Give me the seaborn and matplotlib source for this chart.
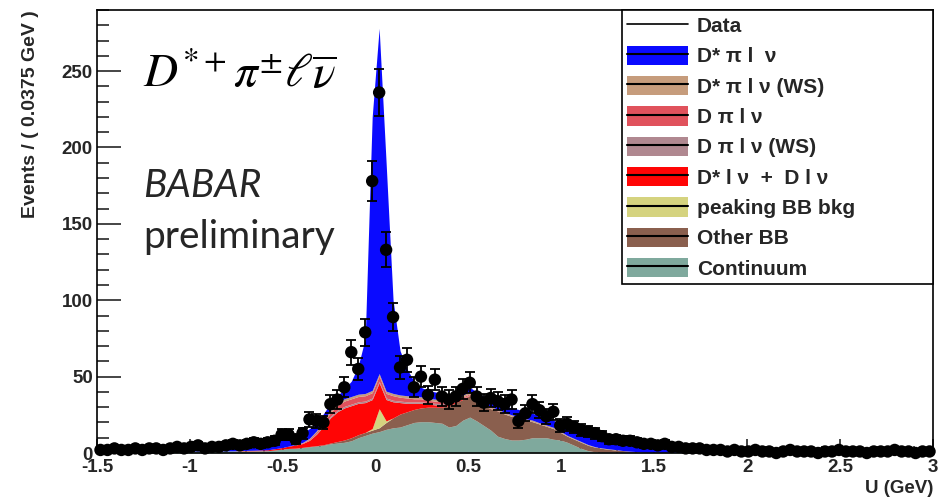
import numpy as np
import pandas as pd
import matplotlib
matplotlib.use("Agg")
import matplotlib.pyplot as plt
from matplotlib.patches import Patch
from matplotlib.lines import Line2D
from matplotlib.ticker import MultipleLocator
import seaborn as sns

# ---- binning: 120 bins of 0.0375 GeV on [-1.5, 3] ----
u_lo, u_hi, bin_w = -1.5, 3.0, 0.0375
n_bins = 120

# ---- observed events per bin ----
data_counts = [
    2, 2, 3, 2, 2, 3, 2, 3, 3, 2, 3, 4, 3, 4, 5, 3, 4, 4, 5, 6, 5, 6, 7, 6, 7, 8,
    12, 12, 9, 13, 22, 21, 20, 32, 35, 43, 66, 55, 79,
    178, 236, 133, 89, 56, 61, 43,
    50, 38, 48, 37, 35, 37, 42, 46, 37, 33, 36, 34, 32, 35,
    21, 26, 32, 28, 24, 27, 18, 19, 17, 15, 14, 13, 11,
    9, 9, 8, 8, 7, 6, 6, 5, 6, 4, 4, 3, 3,
    3, 2, 2, 2, 1, 2, 1, 1, 2, 1, 1, 0, 1, 2, 1, 1, 1, 0, 1, 1, 2, 1, 1, 1, 0,
    1, 1, 1, 2, 1, 1, 0, 1, 1,
]

# ---- fitted components (events per bin), listed bottom of stack first ----
continuum = [
    1.0, 1.0, 1.0, 1.0, 1.1, 1.1, 1.1, 1.1, 1.2, 1.2, 1.2, 1.2, 1.2, 1.3, 1.3, 1.3,
    1.3, 1.3, 1.4, 1.4, 1.4, 1.4, 1.4, 1.5,
    1.5, 2, 2.5, 3, 3, 3.5, 4, 4.5, 5, 6, 6.5, 7, 8, 10, 11.5, 13, 14, 15.5, 16.5, 17,
    18.5, 20, 20.5, 20.5, 20, 19.5, 17, 18, 21.5, 23.5, 21, 18, 15, 11, 9.5, 8.5,
    8.5, 9, 10, 10, 10, 9, 8.5, 7, 5, 3, 1.5, 0.8, 0.5,
    0.6, 0.6, 0.6, 0.5, 0.5, 0.5, 0.5, 0.5, 0.5, 0.5, 0.5, 0.5, 0.5, 0.5, 0.5, 0.5,
    0.5, 0.5, 0.5, 0.5, 0.5, 0.5, 0.5, 0.5, 0.5, 0.5, 0.5, 0.5, 0.5, 0.5, 0.5, 0.5,
    0.5, 0.5, 0.5, 0.5, 0.5, 0.5, 0.5, 0.5, 0.5, 0.5, 0.5, 0.5, 0.5, 0.5, 0.5,
]
other_bb = [0.0] * 24 + [
    0, 0, 0, 0, 0.2, 0.2, 0.3, 0.3, 0.4,
    0.5, 1, 1.5, 2, 2, 2, 2, 2.5, 4.5, 6.5, 8.5, 8.5, 8.5, 9, 9.5, 10, 10.5, 14, 15,
    13.5, 14, 13, 13, 14, 16.5, 16, 15.5, 14.5, 12.5, 10.5, 9, 7.5, 7, 5, 4, 4, 4,
    3.5, 3, 2.5, 1.8, 1.3, 1, 0.7, 0.4, 0, 0,
] + [0.0] * 40
peaking_bb = [0.0] * 39 + [1.0, 12.5, 1.0] + [0.0] * 78
dstar_lnu_d_lnu = [0.0] * 20 + [
    0.2, 0.3, 0.4, 0.5, 0.6, 0.8, 1, 1.5, 2, 2.5,
    4, 7.5, 12, 16.5, 19.5, 21, 21, 20.5, 19.5, 19,
    17, 14, 10.5, 7.5, 5.5, 4, 3, 2, 1.5, 1.5,
    1, 0.8, 0.5, 0.3, 0.2, 0.1,
] + [0.0] * 64
d_pi_lnu_ws = [0.0] * 30 + [
    0.3, 0.5, 0.8,
    1, 1, 1, 1, 1, 1, 1, 1, 1, 1, 1, 1, 1, 1, 1, 1,
    0.8, 0.7, 0.6, 0.5, 0.4, 0.3, 0.2, 0.1,
] + [0.0] * 63
d_pi_lnu = [0.0] * 28 + [
    0.2, 0.4, 0.6, 1, 2, 2.5, 3, 3.5, 3.5, 3.5,
    3.5, 3.5, 3.5, 3, 3, 2.5, 2.5, 2, 2, 1.5,
    1.5, 1.2, 1, 0.8, 0.7, 0.6, 0.5, 0.4, 0.3, 0.2, 0.1,
] + [0.0] * 61
dstar_pi_lnu_ws = [0.0] * 28 + [
    0.2, 0.3, 0.5, 0.7, 1,
    1.5, 1.5, 1.5, 1.5, 1.5, 1.5, 1.5, 1.5, 1.5, 1.5, 1.5, 1.5, 1.5,
    1.3, 1.3, 1.3, 1.3, 1.3, 1.3, 1.3, 1.3, 1.3, 1.3,
    1.0, 1.0, 1.0, 1.0, 1.0, 1.0, 1.0,
    0.8, 0.8, 0.8, 0.8, 0.5, 0.5, 0.5, 0.5, 0.3, 0.3, 0.3, 0.3,
] + [0.0] * 45
dstar_pi_lnu = [
    1.2, 1.3, 1.4, 1.5, 1.5, 1.6, 1.7, 1.8, 1.8, 1.9, 2.0, 2.1, 2.3, 2.3, 2.5, 2.7,
    2.9, 3.1, 3.3, 3.6, 3.7, 4.0, 4.3, 4.6,
    5.4, 5.2, 5.5, 5.5, 5.9, 6.1, 6.3, 5, 4.5, 4.5,
    5, 6.5, 10, 18.5, 36, 179, 226, 149.5, 61, 29,
    17.5, 10, 6.2, 5.2, 4.7, 4.2, 3.5, 3, 3, 2.9,
    3.7, 4, 4.6, 4.3, 4.4, 4.5, 4.5, 4.5, 4.5, 4.7,
    4.7, 4.7, 4.7, 5.5, 5.5, 6, 6.5, 6.4, 6.2, 5.9,
    5.4, 5.2, 4.8, 4.4, 4.2, 3.7, 2.8, 2.5, 2.2, 2.0,
    1.8, 1.6,
    1.4, 1.35, 1.3, 1.25, 1.2, 1.15, 1.1, 1.1, 1.05, 1.0,
    1.0, 0.95, 0.95, 0.9, 0.9, 0.9, 0.85, 0.85, 0.85, 0.8,
    0.8, 0.8, 0.8, 0.75, 0.75, 0.75, 0.75, 0.7, 0.7, 0.7,
    0.7, 0.7, 0.7, 0.7,
]

component_names = [
    "Continuum", "Other BB", "peaking BB bkg", "D* l \u03bd  +  D l \u03bd",
    "D \u03c0 l \u03bd (WS)", "D \u03c0 l \u03bd", "D* \u03c0 l \u03bd (WS)",
    "D* \u03c0 l  \u03bd",
]
component_values = [
    continuum, other_bb, peaking_bb, dstar_lnu_d_lnu,
    d_pi_lnu_ws, d_pi_lnu, dstar_pi_lnu_ws, dstar_pi_lnu,
]
component_colors = [
    "#7fa99d", "#8a5f4e", "#d5d37f", "#ff0505",
    "#b08890", "#e0525c", "#c69c7c", "#0a0aff",
]

# ---- figure ----
sns.set_theme(style="ticks")
plt.rcParams["font.family"] = ["Liberation Sans", "DejaVu Sans"]
plt.rcParams["mathtext.fontset"] = "stix"

fig = plt.figure(figsize=(9.40, 4.99), dpi=100)
ax = fig.add_axes([97 / 940, 46 / 499, 836 / 940, 443 / 499])

edges = u_lo + bin_w * np.arange(n_bins + 1)
centers = 0.5 * (edges[:-1] + edges[1:])

df = pd.DataFrame({"U": centers, "events": data_counts})
for name, vals in zip(component_names, component_values):
    df[name] = vals

# stacked fit components
bottom = np.zeros(n_bins)
for name, col in zip(component_names, component_colors):
    top = bottom + df[name].to_numpy()
    ax.fill_between(df["U"], bottom, top, color=col, linewidth=0, zorder=2)
    bottom = top

# data points with Poisson errors
ax.errorbar(df["U"], df["events"], yerr=np.sqrt(df["events"]), fmt="none",
            ecolor="black", elinewidth=1.3, capsize=3.5, capthick=1.3,
            zorder=4, clip_on=False)
sns.scatterplot(data=df, x="U", y="events", ax=ax, color="black", s=80,
                edgecolor="none", zorder=5, clip_on=False, legend=False)

ax.set_xlim(u_lo, u_hi)
ax.set_ylim(0, 290)
ax.xaxis.set_major_locator(MultipleLocator(0.5))
ax.xaxis.set_minor_locator(MultipleLocator(0.1))
ax.yaxis.set_major_locator(MultipleLocator(50))
ax.yaxis.set_minor_locator(MultipleLocator(10))
ax.tick_params(axis="x", which="major", direction="in", length=10, width=1.2,
               pad=4, labelsize=13.5)
ax.tick_params(axis="x", which="minor", direction="in", length=5, width=1.2)
ax.tick_params(axis="y", which="major", direction="in", length=17, width=1.2,
               pad=3, labelsize=13.5)
ax.tick_params(axis="y", which="minor", direction="in", length=8.5, width=1.2)
ax.set_xticklabels([f"{v:g}" for v in ax.get_xticks()])
for lab in ax.get_xticklabels() + ax.get_yticklabels():
    lab.set_fontweight("bold")
for sp in ax.spines.values():
    sp.set_linewidth(1.2)
    sp.set_color("black")

ax.set_xlabel("U (GeV)", fontsize=13.5, fontweight="bold")
ax.xaxis.set_label_coords(1.0, -0.061)
ax.xaxis.label.set_horizontalalignment("right")
ax.set_ylabel("Events / ( 0.0375 GeV )", fontsize=14, fontweight="bold")
ax.yaxis.set_label_coords(-0.079, 1.0)
ax.yaxis.label.set_verticalalignment("center")
ax.yaxis.label.set_horizontalalignment("right")

# legend: data first, then components from top of stack downward
handles = [Line2D([], [], color="black", lw=1.2)]
labels = ["Data"]
for name, col in zip(component_names[::-1], component_colors[::-1]):
    handles.append((Patch(facecolor=col, edgecolor="none"),
                    Line2D([], [], color="black", lw=1.5)))
    labels.append(name)
leg = ax.legend(handles, labels, loc="upper left",
                bbox_to_anchor=(0.628, 0.375, 0.372, 0.625), mode="expand",
                borderaxespad=0, frameon=True, fancybox=False, framealpha=1,
                edgecolor="black", handlelength=2.9,
                handleheight=1.05, handletextpad=0.45, labelspacing=0.46,
                borderpad=0.25, prop={"weight": "bold", "size": 15})
leg.get_frame().set_linewidth(1.2)
leg.set_zorder(6)

# channel and collaboration labels
fig.text(143 / 940, 1 - 88 / 499, r"$D^{*+}\pi^{\pm}\ell\overline{\nu}$",
         fontsize=34, fontweight="normal", ha="left", va="baseline",
         color="black")
fig.text(143 / 940, 1 - 197 / 499, "BABAR", family="Lato", style="italic",
         fontweight="normal", fontsize=28, ha="left", va="baseline")
fig.text(143 / 940, 1 - 248 / 499, "preliminary", family="Lato",
         fontweight="normal", fontsize=28, ha="left", va="baseline")

fig.savefig("out.png", dpi=100)
